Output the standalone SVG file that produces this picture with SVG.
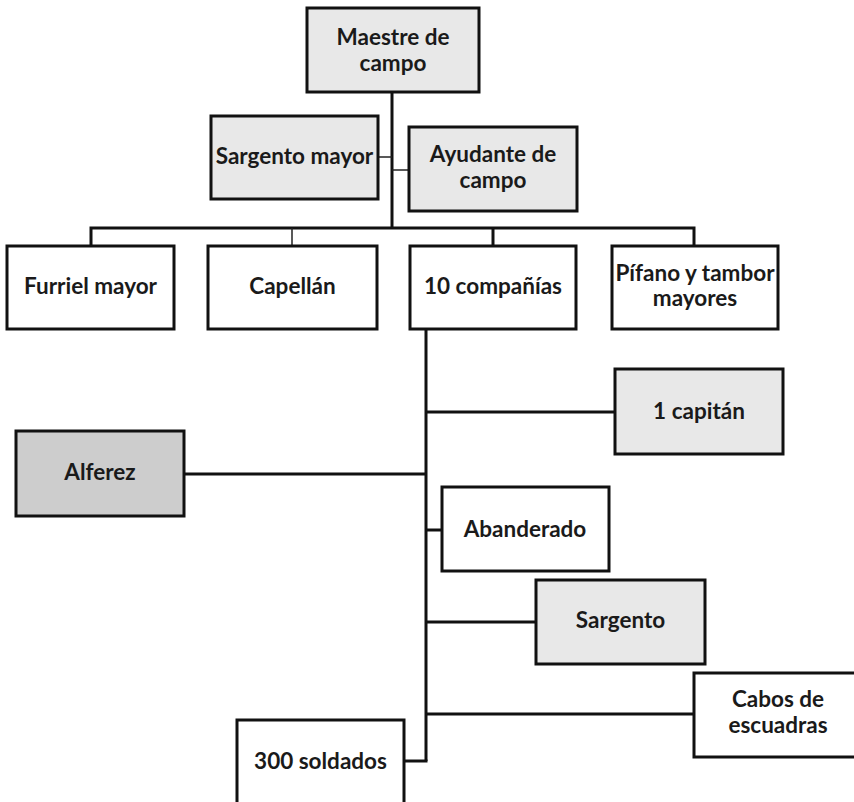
<svg xmlns="http://www.w3.org/2000/svg" width="854" height="802" viewBox="0 0 854 802">
<style>
.box{stroke:#111;stroke-width:3;fill:#fff}
.lt{fill:#e8e8e8}
.dk{fill:#cdcdcd}
.t{font-family:Lato,"Liberation Sans",sans-serif;font-weight:bold;font-size:22.5px;fill:#1a1a1a;text-anchor:middle}
.c{stroke:#111;stroke-width:3;fill:none}
.thin{stroke:#222;stroke-width:1.5;fill:none}
</style>
<rect width="854" height="802" fill="#fff"/>
<g id="connectors">
<line class="c" x1="392" y1="92" x2="392" y2="228"/>
<line class="thin" x1="378" y1="157" x2="392" y2="157"/>
<line class="thin" x1="392" y1="170" x2="409" y2="170"/>
<polyline class="c" points="91,246 91,228 694,228 694,246"/>
<line class="thin" x1="292" y1="228" x2="292" y2="246"/>
<line class="c" x1="493" y1="228" x2="493" y2="246"/>
<line class="c" x1="426" y1="329" x2="426" y2="761"/>
<line class="c" x1="426" y1="412" x2="615" y2="412"/>
<line class="c" x1="184" y1="474" x2="426" y2="474"/>
<line class="c" x1="426" y1="530" x2="442" y2="530"/>
<line class="c" x1="426" y1="622" x2="536" y2="622"/>
<line class="c" x1="426" y1="714" x2="694" y2="714"/>
<line class="c" x1="404" y1="761" x2="427.5" y2="761"/>
</g>
<g id="maestre"><rect class="box lt" x="307" y="8" width="172" height="84"/><text class="t" x="393" y="45">Maestre de</text><text class="t" x="393" y="71">campo</text></g>
<g id="sargento-mayor"><rect class="box lt" x="211" y="116" width="167" height="83"/><text class="t" x="294.5" y="164">Sargento mayor</text></g>
<g id="ayudante"><rect class="box lt" x="409" y="127" width="168" height="84"/><text class="t" x="493" y="162">Ayudante de</text><text class="t" x="493" y="188">campo</text></g>
<g id="furriel"><rect class="box" x="7" y="246" width="167" height="83"/><text class="t" x="90.5" y="294">Furriel mayor</text></g>
<g id="capellan"><rect class="box" x="208" y="246" width="169" height="83"/><text class="t" x="292.5" y="294">Capellán</text></g>
<g id="companias"><rect class="box" x="410" y="246" width="166" height="83"/><text class="t" x="493" y="294">10 compañías</text></g>
<g id="pifano"><rect class="box" x="612" y="246" width="166" height="83"/><text class="t" x="695" y="281">Pífano y tambor</text><text class="t" x="695" y="306">mayores</text></g>
<g id="capitan"><rect class="box lt" x="615" y="369" width="168" height="85"/><text class="t" x="699" y="419">1 capitán</text></g>
<g id="alferez"><rect class="box dk" x="16" y="431" width="168" height="85"/><text class="t" x="100" y="480">Alferez</text></g>
<g id="abanderado"><rect class="box" x="442" y="487" width="167" height="84"/><text class="t" x="525" y="537">Abanderado</text></g>
<g id="sargento"><rect class="box lt" x="536" y="580" width="169" height="84"/><text class="t" x="620.5" y="628">Sargento</text></g>
<g id="cabos"><rect class="box" x="694" y="673" width="168" height="84"/><text class="t" x="778" y="707">Cabos de</text><text class="t" x="778" y="733">escuadras</text></g>
<g id="soldados"><rect class="box" x="237" y="720" width="167" height="90"/><text class="t" x="320.5" y="769">300 soldados</text></g>
</svg>
